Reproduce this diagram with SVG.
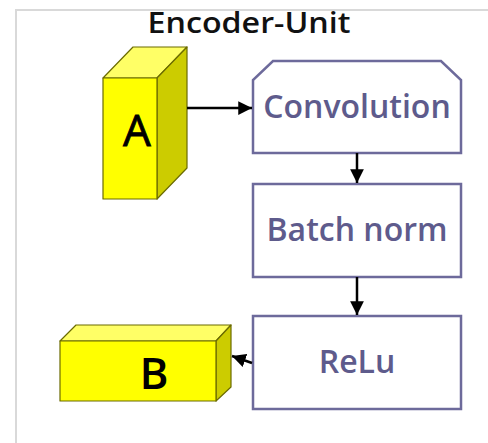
<svg xmlns="http://www.w3.org/2000/svg" width="488" height="443" viewBox="0 0 488 443">
<style>
.frame{fill:none;stroke:#d9d9d9;stroke-width:2}
.node{fill:#ffffff;stroke:#6d6a9b;stroke-width:2.5}
.lbl{font-family:"Open Sans","Noto Sans",sans-serif;font-weight:600;font-size:32px;fill:#5e5b8c;text-anchor:middle}
.front{fill:#ffff00;stroke:#6b6b00;stroke-width:1.2;stroke-linejoin:round}
.top{fill:#ffff66;stroke:#6b6b00;stroke-width:1.2;stroke-linejoin:round}
.side{fill:#cccc00;stroke:#6b6b00;stroke-width:1.2;stroke-linejoin:round}
.cube{font-family:"Open Sans","Noto Sans",sans-serif;font-size:44px;fill:#000;text-anchor:middle}
.edge{stroke:#000;stroke-width:2.5;fill:none}
</style>
<defs>
<marker id="arr" viewBox="0 0 10 10" refX="10" refY="5" markerWidth="5.5" markerHeight="5.5" markerUnits="strokeWidth" orient="auto">
<path d="M0,0 L10,5 L0,10 z" fill="#000"/>
</marker>
</defs>
<rect width="488" height="443" fill="#ffffff"/>
<path class="frame" d="M16,443 V10 H488"/>
<text x="249" y="33" font-family="Open Sans, Noto Sans, sans-serif" font-weight="600" font-size="29" text-anchor="middle" fill="#111" textLength="203" lengthAdjust="spacingAndGlyphs">Encoder-Unit</text>
<g id="nodeA">
<polygon class="top" points="103,78 133,47 187,47 157,78"/>
<polygon class="side" points="157,78 187,47 187,168 157,199"/>
<rect class="front" x="103" y="78" width="54" height="121"/>
<text class="cube" x="137" y="146" font-family="Liberation Sans, Arial, sans-serif" stroke="#000" stroke-width="0.8">A</text>
</g>
<g id="nodeConvolution">
<polygon class="node" points="273,61 441,61 461,80 461,153 253,153 253,80"/>
<text class="lbl" x="357" y="118">Convolution</text>
</g>
<g id="nodeBatchNorm">
<rect class="node" x="253" y="184" width="208" height="93"/>
<text class="lbl" x="357" y="241">Batch norm</text>
</g>
<g id="nodeReLu">
<rect class="node" x="253" y="316" width="208" height="93"/>
<text class="lbl" x="357" y="373">ReLu</text>
</g>
<g id="nodeB">
<polygon class="top" points="60,341 76,325 231,325 216,341"/>
<polygon class="side" points="216,341 231,325 231,387 216,401"/>
<rect class="front" x="60" y="341" width="156" height="60"/>
<text class="cube" x="154" y="389" font-weight="600">B</text>
</g>
<g id="connectors">
<line class="edge" x1="187" y1="108" x2="252" y2="108" marker-end="url(#arr)"/>
<line class="edge" x1="357" y1="153" x2="357" y2="183" marker-end="url(#arr)"/>
<line class="edge" x1="357" y1="277" x2="357" y2="315" marker-end="url(#arr)"/>
<line class="edge" x1="252" y1="363" x2="232" y2="356" marker-end="url(#arr)"/>
</g>
</svg>
